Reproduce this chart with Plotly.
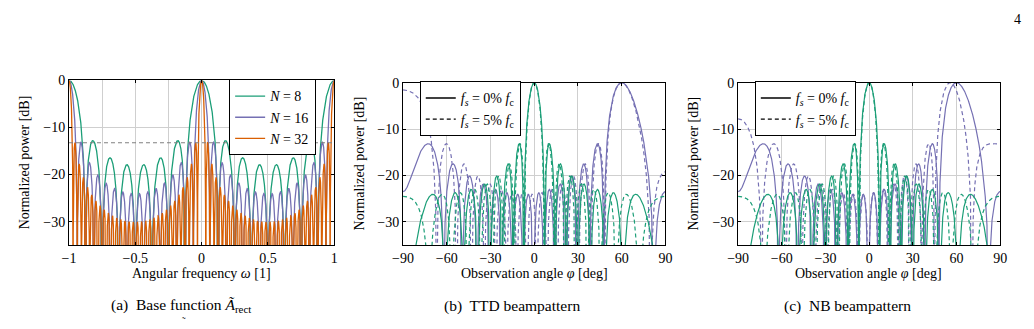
import numpy as np
import plotly.graph_objects as go

# ---------------- data (parameters) ----------------
N_base = [8, 16, 32]                       # array sizes in panel (a)
base_labels = ["<i>N</i> = 8", "<i>N</i> = 16", "<i>N</i> = 32"]
base_colors = ["#1b9e77", "#7570b3", "#d95f02"]
sidelobe_level_db = -13.26                 # dashed reference line in (a)
N_array = 16                               # array used in panels (b), (c)
spacing = 0.5                              # element spacing [wavelengths]
steer_deg = [60, 0]                        # steering angles (purple, green)
steer_colors = ["#7570b3", "#1b9e77"]
freq_offset = [0.0, 0.05]                  # f_s / f_c
offset_labels = ["<i>f<sub>s</sub></i> = 0% <i>f</i><sub>c</sub>",
                 "<i>f<sub>s</sub></i> = 5% <i>f</i><sub>c</sub>"]
x_ticks_a = [-1, -0.5, 0, 0.5, 1]
x_minor_a = [-0.75, -0.25, 0.25, 0.75]
x_ticks_b = [-90, -60, -30, 0, 30, 60, 90]
y_ticks = [-30, -20, -10, 0]
y_range = [-35, 0]


def rect_db(w, N):
    s = np.sin(np.pi * w)
    small = np.abs(s) < 1e-12
    a = np.where(small, 1.0, np.sin(N * np.pi * w) / (N * np.where(small, 1.0, s)))
    return 20 * np.log10(np.maximum(np.abs(a), 1e-4))


omega = np.linspace(-1, 1, 6001)
phi = np.linspace(-90, 90, 6001)
sphi = np.sin(np.radians(phi))

FONT = "Liberation Serif, Times New Roman, DejaVu Serif, serif"
fig = go.Figure()

# ---- panel (a) ----
for N, lab, col in zip(N_base, base_labels, base_colors):
    fig.add_trace(go.Scatter(x=omega, y=rect_db(omega, N), mode="lines",
                             line=dict(color=col, width=1.3), name=lab,
                             xaxis="x", yaxis="y", legend="legend"))
fig.add_trace(go.Scatter(x=[omega[0], omega[-1]], y=[sidelobe_level_db] * 2,
                         mode="lines", line=dict(color="#808080", width=1.1, dash="4px,3px"),
                         showlegend=False, xaxis="x", yaxis="y"))

# ---- panels (b) TTD and (c) NB ----
for panel, (xa, ya) in enumerate([("x2", "y2"), ("x3", "y3")]):
    for st, col in zip(steer_deg, steer_colors):
        s0 = np.sin(np.radians(st))
        for fo in freq_offset:
            if panel == 0:
                w = (1 + fo) * spacing * (sphi - s0)
            else:
                w = spacing * ((1 + fo) * sphi - s0)
            fig.add_trace(go.Scatter(
                x=phi, y=rect_db(w, N_array), mode="lines",
                line=dict(color=col, width=1.2,
                          dash="solid" if fo == 0 else "4px,3px"),
                showlegend=False, xaxis=xa, yaxis=ya))
    leg = "legend2" if panel == 0 else "legend3"
    for fo, lab in zip(freq_offset, offset_labels):
        fig.add_trace(go.Scatter(x=[None], y=[None], mode="lines",
                                 line=dict(color="black", width=1.3,
                                           dash="solid" if fo == 0 else "4px,3px"),
                                 name=lab, legend=leg, xaxis=xa, yaxis=ya))

W, H = 1034, 329


def px(x):
    return x / W


def py(y):
    return 1 - y / H


axis_common = dict(showline=True, linecolor="black", linewidth=1, mirror="ticks",
                   ticks="inside", ticklen=3, tickcolor="black",
                   showgrid=True, gridcolor="#cfcfcf", gridwidth=1, zeroline=False,
                   tickfont=dict(family=FONT, size=14, color="black"))

legend_common = dict(bgcolor="white", bordercolor="black", borderwidth=1,
                     font=dict(family=FONT, size=14, color="black"),
                     xanchor="left", yanchor="top", tracegroupgap=0,
                     itemwidth=30, traceorder="normal")

layout = dict(
    width=W, height=H, margin=dict(l=0, r=0, t=0, b=0),
    paper_bgcolor="white", plot_bgcolor="white",
    font=dict(family=FONT, size=14, color="black"),
    xaxis=dict(domain=[px(59), px(329)], range=[-1, 1], tickvals=x_ticks_a,
               minor=dict(tickvals=x_minor_a, showgrid=True, gridcolor="#cfcfcf", ticks=""),
               anchor="y", **axis_common),
    yaxis=dict(domain=[py(243.3), py(75)], range=y_range, tickvals=y_ticks, anchor="x",
               **axis_common),
    xaxis2=dict(domain=[px(399), px(666)], range=[-90, 90], tickvals=x_ticks_b,
                anchor="y2", **axis_common),
    yaxis2=dict(domain=[py(243.3), py(77.3)], range=y_range, tickvals=y_ticks, anchor="x2",
                **axis_common),
    xaxis3=dict(domain=[px(740), px(1006.7)], range=[-90, 90], tickvals=x_ticks_b,
                anchor="y3", **axis_common),
    yaxis3=dict(domain=[py(243.3), py(77.3)], range=y_range, tickvals=y_ticks, anchor="x3",
                **axis_common),
    legend=dict(x=px(222), y=py(74), **legend_common),
    legend2=dict(x=px(416), y=py(76), **legend_common),
    legend3=dict(x=px(757), y=py(76), **legend_common),
)
fig.update_layout(**layout)


def ann(text, x, y, size=14, angle=0, xanchor="center", yanchor="middle"):
    fig.add_annotation(text=text, x=px(x), y=py(y), xref="paper", yref="paper",
                       showarrow=False, textangle=angle, xanchor=xanchor, yanchor=yanchor,
                       font=dict(family=FONT, size=size, color="black"))


ann("4", 1024, 13)
ann("Normalized power [dB]", 14, 159, angle=-90)
ann("Normalized power [dB]", 355, 160, angle=-90)
ann("Normalized power [dB]", 695, 160, angle=-90)
ann("Angular frequency <i>ω</i> [1]", 193.5, 272)
ann("Observation angle <i>φ</i> [deg]", 532.5, 272)
ann("Observation angle <i>φ</i> [deg]", 873, 272)
ann("(a)  Base function <i>Ã</i><sub>rect</sub>", 173.5, 305, size=15.5)
ann("(b)  TTD beampattern", 510, 305, size=15.5)
ann("(c)  NB beampattern", 851.5, 305, size=15.5)
ann("˜", 176, 328.5, size=11, yanchor="bottom")

fig.write_html("out.html")
